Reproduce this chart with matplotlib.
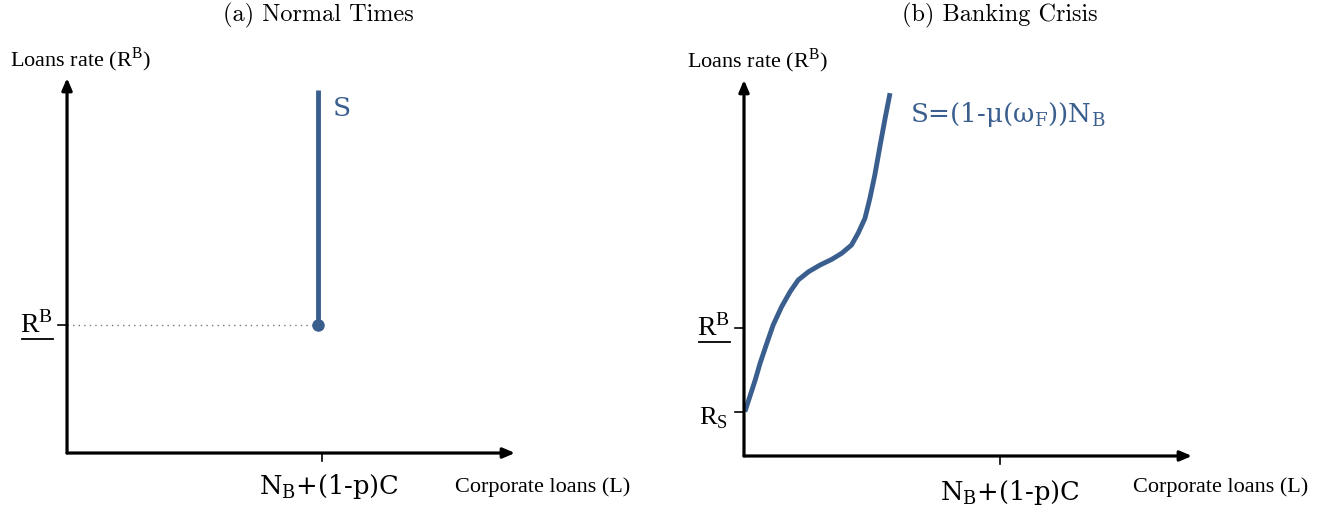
import matplotlib.pyplot as plt

plt.rcParams['font.family'] = ['Liberation Serif', 'DejaVu Serif']
plt.rcParams['mathtext.fontset'] = 'custom'
# rm -> letra ancha tipo Cambria, sf -> letra tipo Times
plt.rcParams['mathtext.rm'] = 'DejaVu Serif'
plt.rcParams['mathtext.it'] = 'DejaVu Serif:italic'
plt.rcParams['mathtext.sf'] = 'Liberation Serif'

# datos del panel (a): oferta vertical
s_normal_x = [0.56, 0.56]
s_normal_y = [0.341, 0.968]
rb_nivel = 0.341
x_tick_a = 0.569

# datos del panel (b): oferta en crisis
s_crisis_x = [0.002, 0.013, 0.025, 0.036, 0.051, 0.065, 0.084, 0.103, 0.121,
              0.144, 0.170, 0.196, 0.218, 0.240, 0.255, 0.270, 0.281, 0.292,
              0.304, 0.315, 0.326]
s_crisis_y = [0.118, 0.158, 0.202, 0.247, 0.300, 0.348, 0.397, 0.437, 0.468,
              0.490, 0.508, 0.523, 0.539, 0.561, 0.593, 0.632, 0.685, 0.747,
              0.827, 0.898, 0.965]
rb_nivel_b = 0.340
rs_nivel_b = 0.117
x_tick_b = 0.571

azul = '#3a5f8e'
cambria = 'DejaVu Serif'
x_label = r'$\mathrm{N_B}$+(1-p)C'
rb_label = r'R$^{\mathsf{B}}$'

fig = plt.figure(figsize=(13.3, 5.12), dpi=100)
ax_a = fig.add_axes([0.0504, 0.1152, 0.3368, 0.7324])
ax_b = fig.add_axes([0.5594, 0.1094, 0.3368, 0.7344])


def preparar_ejes(ax):
    ax.set_xlim(0, 1)
    ax.set_ylim(0, 1)
    for s in ax.spines.values():
        s.set_visible(False)
    ax.set_xticks([])
    ax.set_yticks([])
    ax.patch.set_alpha(0)
    flecha = dict(arrowstyle='-|>,head_length=0.7,head_width=0.3', color='black',
                  lw=2.3, shrinkA=0, shrinkB=0)
    ax.annotate('', xy=(1.0, 0), xytext=(0, 0), arrowprops=flecha, annotation_clip=False)
    ax.annotate('', xy=(0, 1.0), xytext=(0, 0), arrowprops=flecha, annotation_clip=False)
    ax.text(-0.128, 1.05, r'Loans rate (R$^{\mathsf{B}}$)', fontsize=16,
            transform=ax.transAxes, va='center', ha='left')


def marca_y(ax, y):
    ax.plot([-0.02, 0], [y, y], color='black', lw=1.2, clip_on=False)


def marca_x(ax, x):
    ax.plot([x, x], [0, -0.02], color='black', lw=1.2, clip_on=False)


def etiqueta_rb(ax, y):
    # el subrayado se dibuja a mano porque mathtext no tiene \underline
    ax.text(-0.031, y, rb_label, fontsize=20, ha='right', va='center')
    ax.plot([-0.1, -0.031], [y - 0.037, y - 0.037], color='black', lw=1.3,
            clip_on=False)


# panel (a)
preparar_ejes(ax_a)
ax_a.plot([0, s_normal_x[0]], [rb_nivel, rb_nivel], ls=(0, (1, 3)), color='#777777', lw=1)
ax_a.plot(s_normal_x, s_normal_y, color=azul, lw=3.5, solid_capstyle='butt')
ax_a.plot(s_normal_x[0], rb_nivel, 'o', color=azul, ms=8)
marca_y(ax_a, rb_nivel)
marca_x(ax_a, x_tick_a)
etiqueta_rb(ax_a, rb_nivel)
ax_a.text(0.585, -0.09, x_label, fontsize=18.5, family=cambria, ha='center', va='center')
ax_a.text(0.866, -0.091, 'Corporate loans (L)', fontsize=16, ha='left', va='center')
ax_a.text(0.594, 0.92, 'S', fontsize=19, family=cambria, color=azul,
          ha='left', va='center')
ax_a.text(0.56, 1.167, '(a) Normal Times', fontsize=17.5, family='cmr10',
          ha='center', va='center', transform=ax_a.transAxes)

# panel (b)
preparar_ejes(ax_b)
ax_b.plot(s_crisis_x, s_crisis_y, color=azul, lw=3.5, solid_capstyle='butt',
          solid_joinstyle='round')
marca_y(ax_b, rb_nivel_b)
marca_y(ax_b, rs_nivel_b)
marca_x(ax_b, x_tick_b)
etiqueta_rb(ax_b, rb_nivel_b)
ax_b.text(-0.036, 0.101, r'R$_{\mathsf{S}}$', fontsize=19, ha='right', va='center')
ax_b.text(0.594, -0.096, x_label, fontsize=18.5, family=cambria, ha='center', va='center')
ax_b.text(0.868, -0.082, 'Corporate loans (L)', fontsize=16, ha='left', va='center')
ax_b.text(0.371, 0.907, r'S=(1-$\mathrm{\mu}$($\mathrm{\omega_F}$))$\mathrm{N_B}$',
          fontsize=18.8, family=cambria, color=azul, ha='left', va='center')
ax_b.text(0.57, 1.172, '(b) Banking Crisis', fontsize=17.5, family='cmr10',
          ha='center', va='center', transform=ax_b.transAxes)

fig.savefig('out.png', dpi=100)
